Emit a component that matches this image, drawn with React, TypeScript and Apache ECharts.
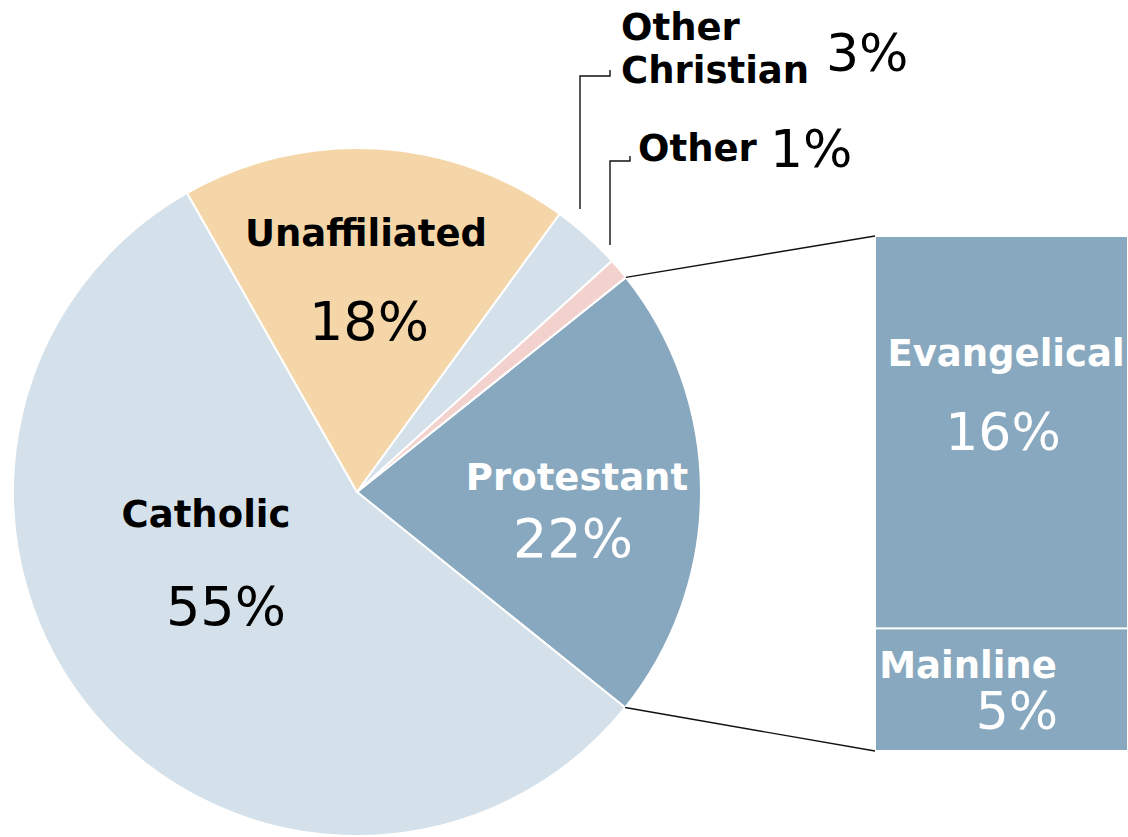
import React, { useEffect, useRef } from "react";
import * as echarts from "echarts";

// Pie slices (share), in drawing order clockwise from the top of Protestant
const sliceNames = ["Protestant", "Catholic", "Unaffiliated", "Other Christian", "Other"];
const sliceValues = [21.5, 56.0, 18.25, 3.25, 1.0];
const sliceLabels = ["22%", "55%", "18%", "3%", "1%"];
const sliceColors = ["#87a8be", "#d4e1ea", "#f5d6a8", "#d4e1ea", "#f3d2ce"];

// Protestant breakdown
const subNames = ["Mainline", "Evangelical"];
const subValues = [5, 16];
const subLabels = ["5%", "16%"];

const CX = 357;
const CY = 492;
const R = 344;
const START = 38.6;

export default function App() {
  const ref = useRef<HTMLDivElement>(null);
  useEffect(() => {
    if (!ref.current) return;
    const chart = echarts.init(ref.current, undefined, { renderer: "svg" });
    const total = sliceValues.reduce((a, b) => a + b, 0);
    const protAngle = (sliceValues[0] / total) * 360;
    const a1 = (START * Math.PI) / 180;
    const a2 = ((START - protAngle) * Math.PI) / 180;
    const p1 = [CX + R * Math.cos(a1), CY - R * Math.sin(a1)];
    const p2 = [CX + R * Math.cos(a2), CY - R * Math.sin(a2)];

    const barLeft = 875;
    const barTop = 236;
    const barH = 515;
    const barW = 253;

    const bold = "bold 37px 'DejaVu Sans', Verdana, sans-serif";
    const num = "52px 'DejaVu Sans', Verdana, sans-serif";
    const numBig = "54px 'DejaVu Sans', Verdana, sans-serif";
    const txt = (text: string, x: number, y: number, font: string, fill: string, align = "center") => ({
      type: "text",
      x,
      y,
      z: 100,
      silent: true,
      style: {
        text,
        font,
        fill,
        align,
        verticalAlign: "middle",
        textAlign: align,
        textVerticalAlign: "middle",
      },
    });
    const line = (points: number[][]) => ({
      type: "polyline",
      z: 100,
      silent: true,
      shape: { points },
      style: { stroke: "#111", lineWidth: 1.4, fill: null },
    });

    chart.setOption({
      animation: false,
      backgroundColor: "#ffffff",
      grid: { left: barLeft, top: barTop, width: barW, height: barH },
      xAxis: { type: "category", data: ["Protestant"], show: false },
      yAxis: { type: "value", min: 0, max: 21, show: false },
      series: [
        {
          type: "pie",
          center: [CX, CY],
          radius: [0, R],
          startAngle: START,
          clockwise: true,
          label: { show: false },
          labelLine: { show: false },
          itemStyle: { borderColor: "#ffffff", borderWidth: 2 },
          data: sliceNames.map((n, i) => ({
            name: n,
            value: sliceValues[i],
            itemStyle: { color: sliceColors[i] },
          })),
        },
        ...subNames.map((n, i) => ({
          type: "bar",
          name: n,
          stack: "prot",
          barWidth: "100%",
          data: [subValues[i]],
          itemStyle: { color: "#87a8be", borderColor: "#ffffff", borderWidth: 1 },
          label: { show: false },
        })),
      ],
      graphic: {
        elements: [
          // connectors from Protestant slice to the breakdown bar
          line([p1, [barLeft, barTop]]),
          line([p2, [barLeft, barTop + barH]]),
          // leader lines
          line([[580, 209], [580, 76], [610, 76], [610, 70]]),
          line([[610, 245], [610, 161], [630, 161], [630, 156]]),
          // pie labels
          txt(sliceNames[2], 366, 233, bold, "#000"),
          txt(sliceLabels[2], 369, 321, numBig, "#000"),
          txt(sliceNames[1], 206, 514, bold, "#000"),
          txt(sliceLabels[1], 226, 606, numBig, "#000"),
          txt(sliceNames[0], 577, 477, bold, "#ffffff"),
          txt(sliceLabels[0], 573, 538, numBig, "#ffffff"),
          txt("Other", 621, 27, bold, "#000", "left"),
          txt("Christian", 621, 70, bold, "#000", "left"),
          txt(sliceLabels[3], 826, 53, num, "#000", "left"),
          txt(sliceNames[4], 638, 148, bold, "#000", "left"),
          txt(sliceLabels[4], 770, 149, num, "#000", "left"),
          // breakdown labels
          txt(subNames[1], 1006, 353, bold, "#ffffff"),
          txt(subLabels[1], 1003, 432, num, "#ffffff"),
          txt(subNames[0], 968, 665, bold, "#ffffff"),
          txt(subLabels[0], 1017, 711, num, "#ffffff"),
        ],
      },
    });
    return () => chart.dispose();
  }, []);
  return (
    <div
      ref={ref}
      style={{ position: "absolute", left: 0, top: 0, width: 1128, height: 837 }}
    />
  );
}
